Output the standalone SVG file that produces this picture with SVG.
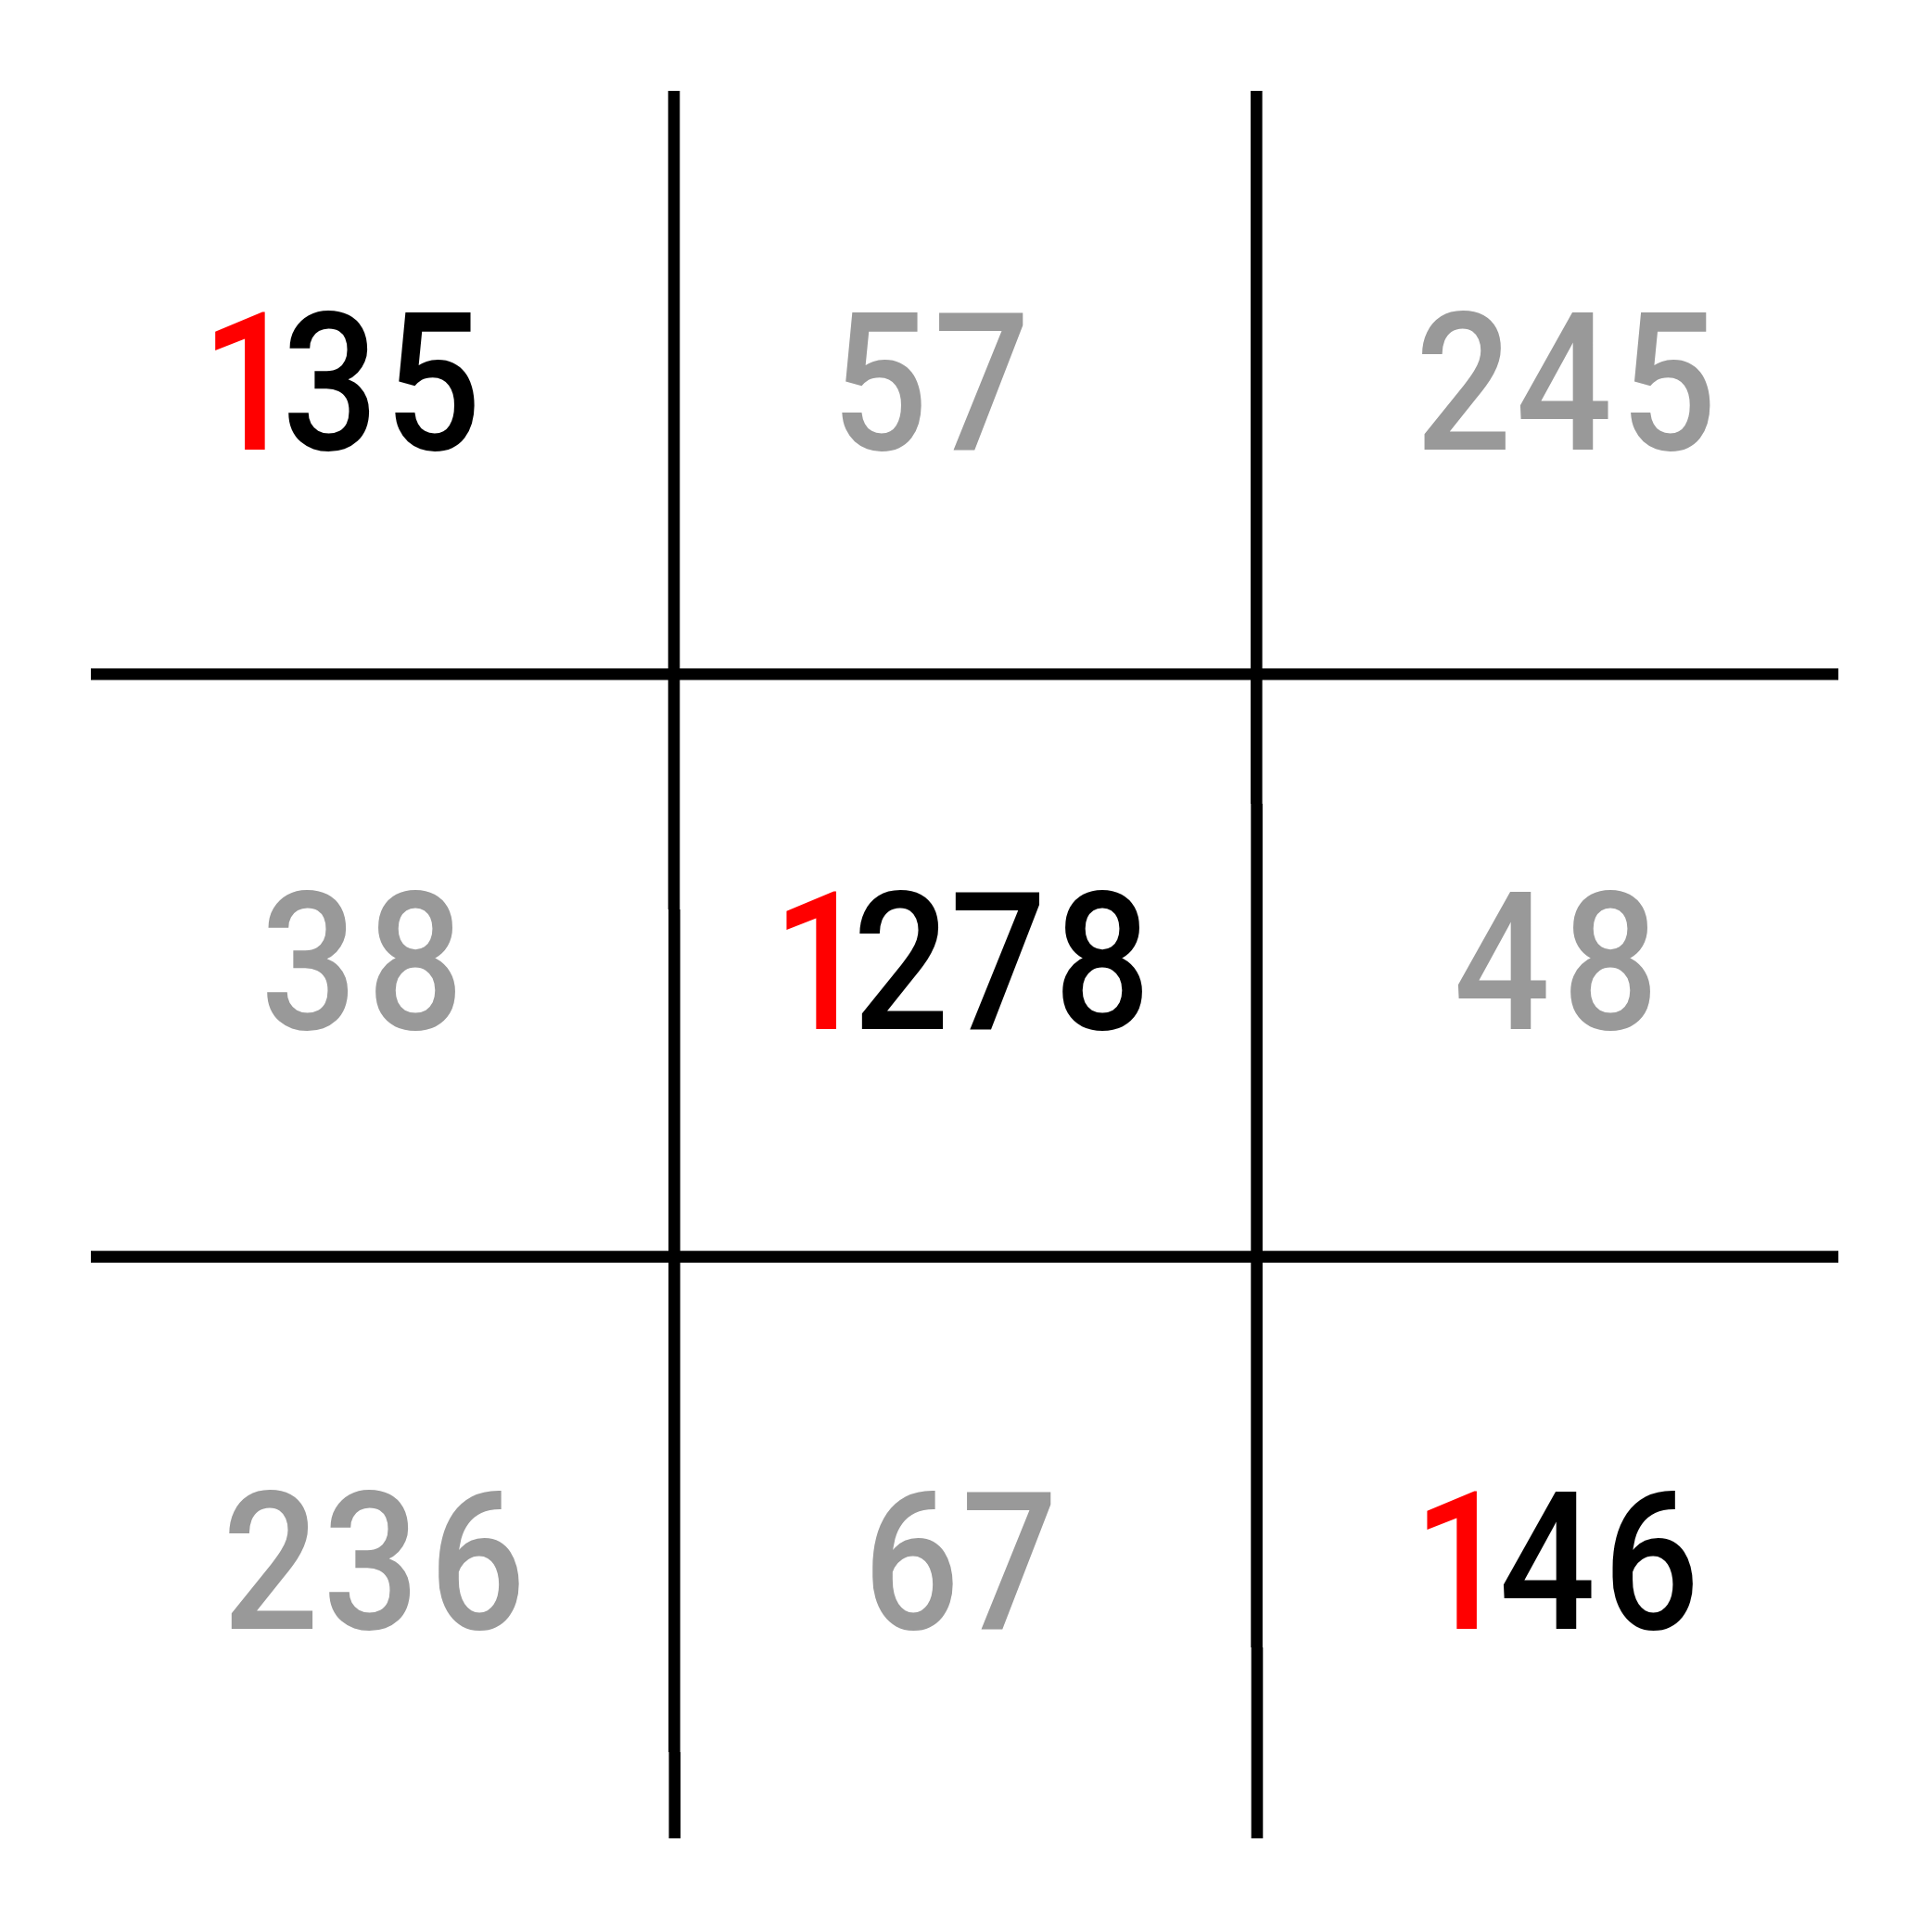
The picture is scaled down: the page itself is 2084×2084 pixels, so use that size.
<svg xmlns="http://www.w3.org/2000/svg" width="2084" height="2084" viewBox="0 0 2084 2084">
<style>
.ln{stroke:#000;stroke-width:12.6;fill:none}
.t{font-family:Roboto,"Liberation Sans",sans-serif;font-weight:500;font-size:208px;text-anchor:middle}
.k{fill:#000}.g{fill:#999999}.r{fill:#ff0000}
</style>
<rect width="2084" height="2084" fill="#fff"/>
<g id="connectors">
<line class="ln" x1="98" y1="727.3" x2="1983" y2="727.3"/>
<line class="ln" x1="98" y1="1355.6" x2="1983" y2="1355.6"/>
<line class="ln" x1="727" y1="98" x2="727" y2="981"/>
<line class="ln" x1="727.4" y1="981" x2="727.4" y2="1890"/>
<line class="ln" x1="727.8" y1="1890" x2="727.8" y2="1983"/>
<line class="ln" x1="1355.3" y1="98" x2="1355.3" y2="867"/>
<line class="ln" x1="1355.6" y1="867" x2="1355.6" y2="1777"/>
<line class="ln" x1="1356" y1="1777" x2="1356" y2="1983"/>
</g>
<g transform="scale(0.88,1)">
<g id="n135"><text class="t k" y="485.5"><tspan class="r" x="305.7">1</tspan><tspan x="404.9 530.7">35</tspan></text></g>
<g id="n57"><text class="t g" y="485.5" x="1078.4 1203.4">57</text></g>
<g id="n245"><text class="t g" y="485.5" x="1794.1 1917 2045.2">245</text></g>
<g id="n38"><text class="t g" y="1110.5" x="378.8 509.1">38</text></g>
<g id="n1278"><text class="t k" y="1110.5"><tspan class="r" x="1005.9">1</tspan><tspan x="1104.5 1223.5 1351.1">278</tspan></text></g>
<g id="n48"><text class="t g" y="1110.5" x="1840.9 1973.9">48</text></g>
<g id="n236"><text class="t g" y="1757.5" x="331.8 454.9 585.2">236</text></g>
<g id="n67"><text class="t g" y="1757.5" x="1117 1237.5">67</text></g>
<g id="n146"><text class="t k" y="1757.5"><tspan class="r" x="1791.1">1</tspan><tspan x="1896.6 2024.2">46</tspan></text></g>
</g>
</svg>
